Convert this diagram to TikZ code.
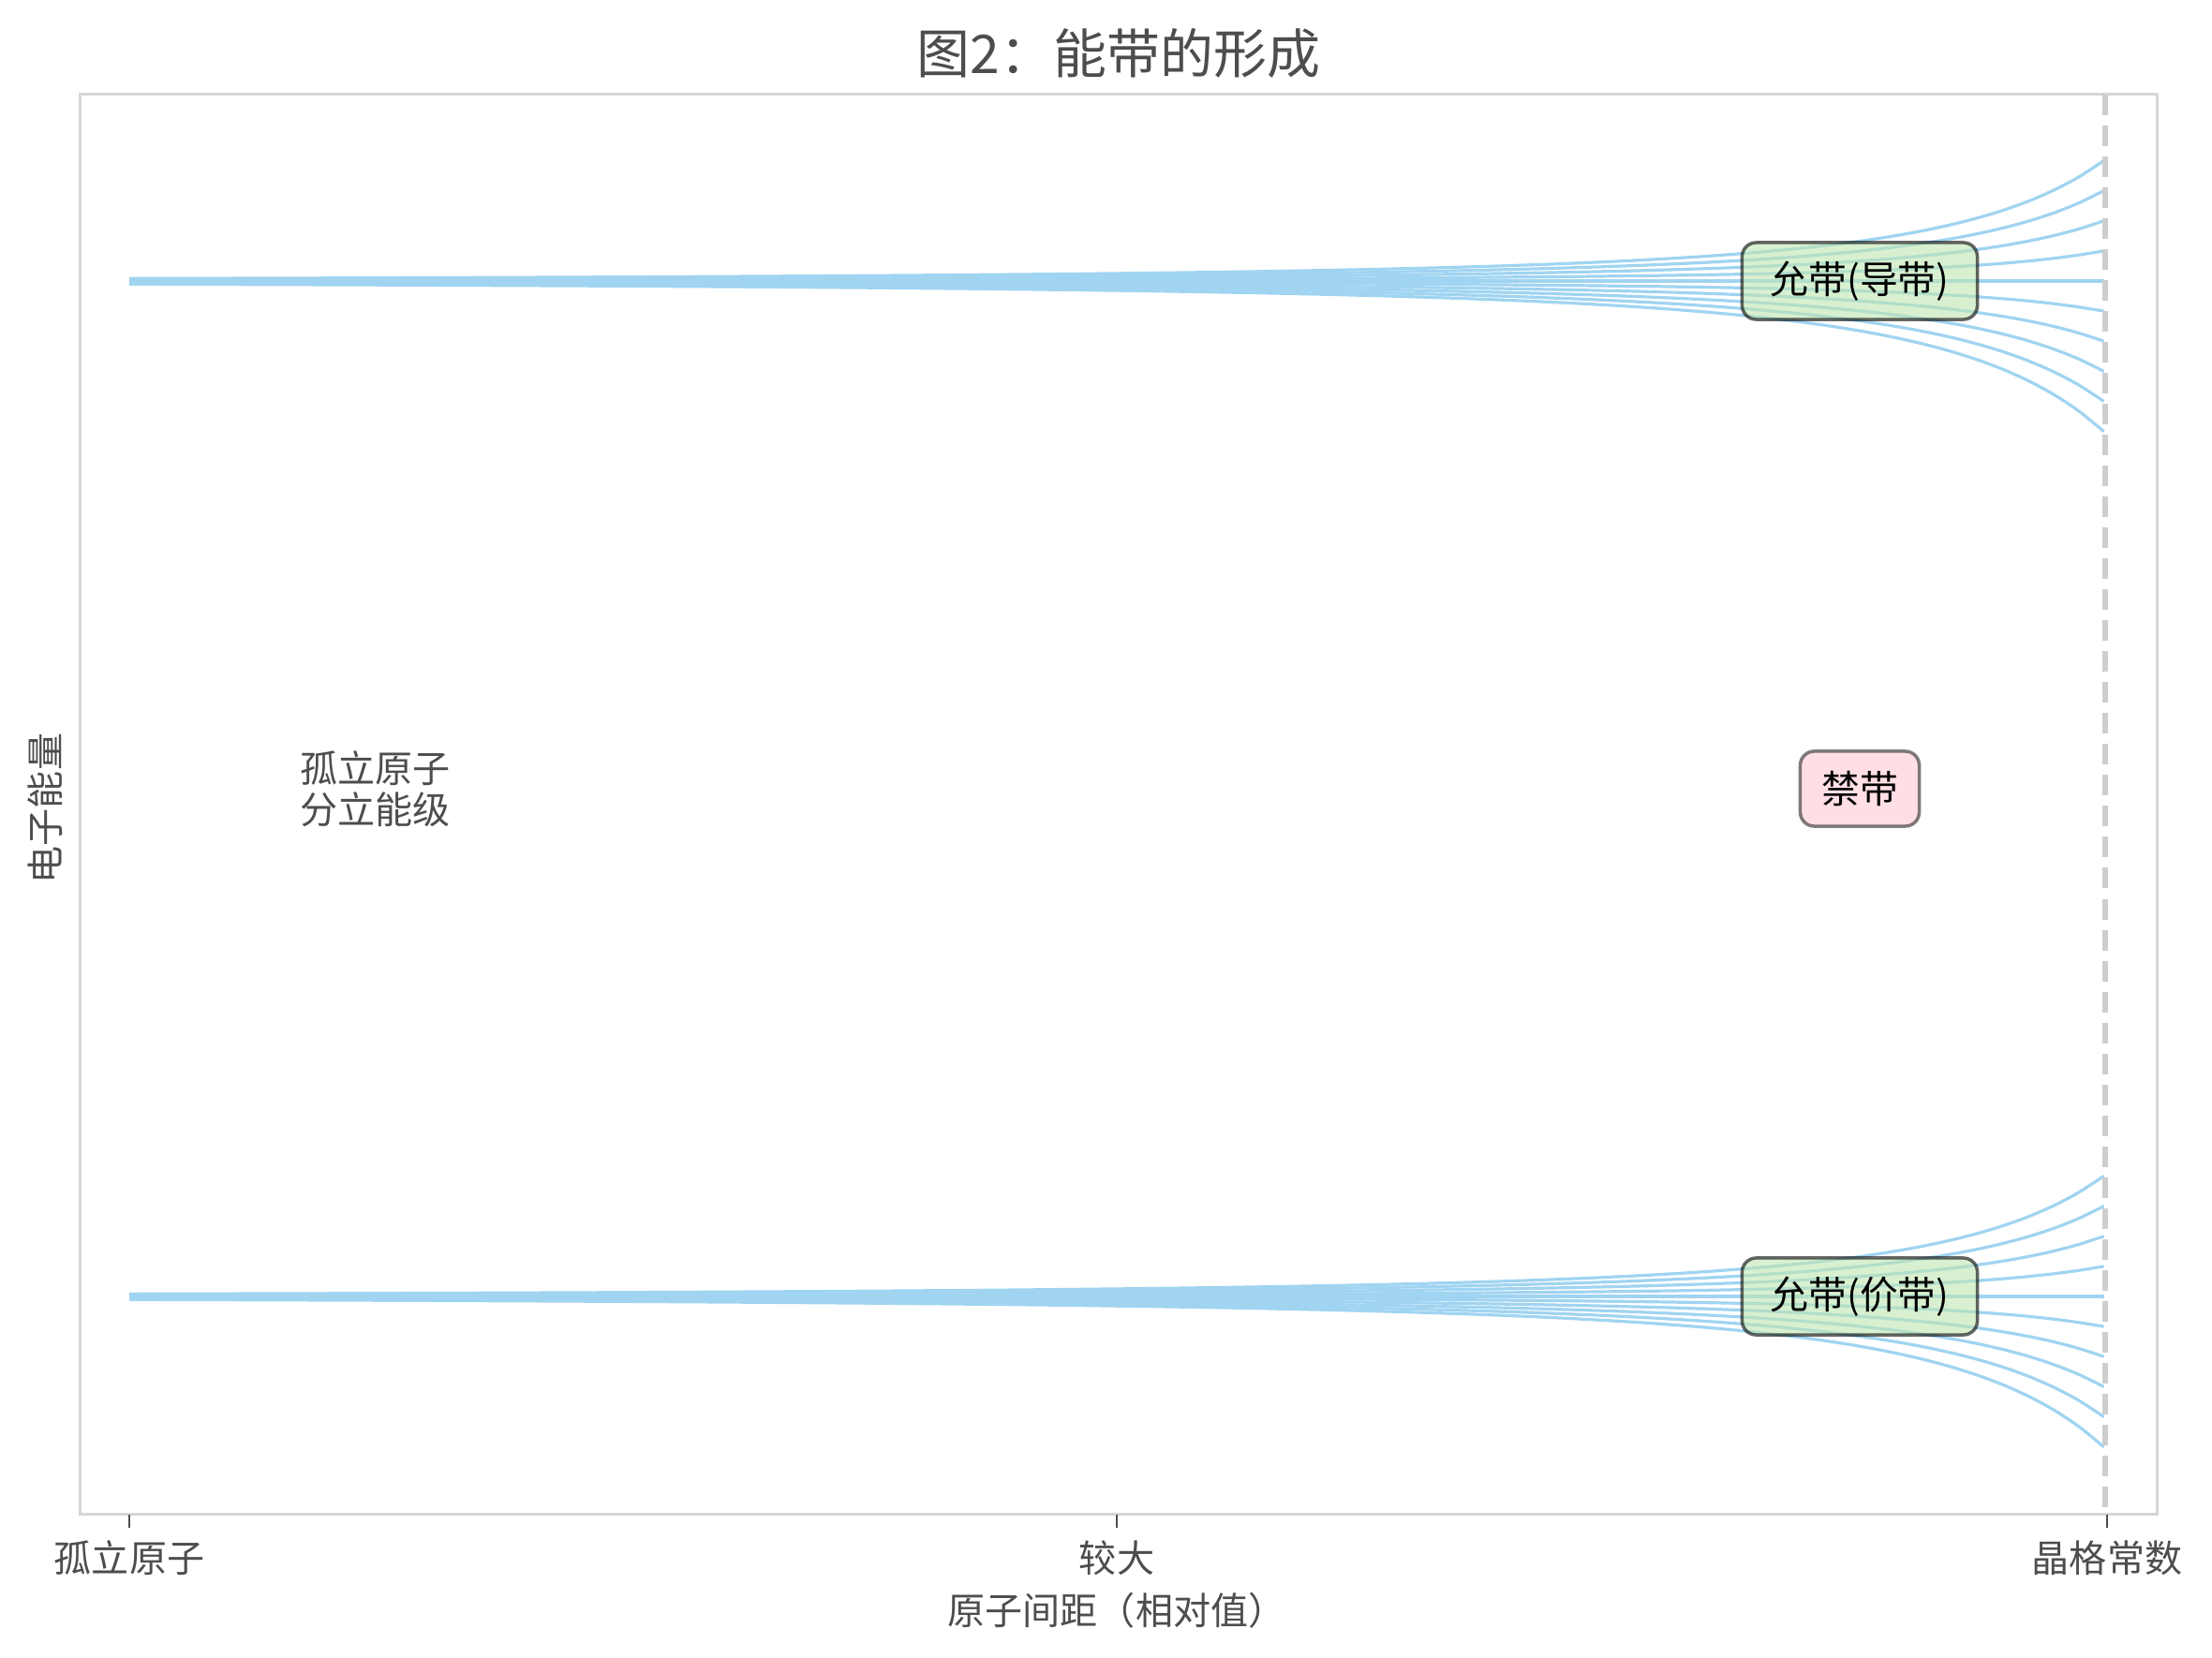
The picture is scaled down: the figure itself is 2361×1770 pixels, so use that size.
\documentclass[tikz,border=0pt]{standalone}
\usepackage{fontspec}
\setmainfont{Noto Sans CJK SC}

\definecolor{levelblue}{RGB}{160,212,241}
\definecolor{framegray}{RGB}{214,214,214}
\definecolor{dashgray}{RGB}{206,206,206}
\definecolor{textgray}{RGB}{77,77,77}
\definecolor{bandgreen}{RGB}{190,230,176}
\definecolor{gappink}{RGB}{255,192,203}

\tikzstyle{level} = [draw=levelblue,line width=0.032cm]
\tikzstyle{frame} = [draw=framegray,line width=0.03cm]
\tikzstyle{lattice} = [draw=dashgray,line width=0.055cm,dash pattern=on 0.22cm off 0.11cm]
\tikzstyle{tickmark} = [draw=textgray,line width=0.02cm]
\tikzstyle{labeltext} = [text=textgray,inner sep=0pt,font=\fontsize{11.4}{12.5}\selectfont]
\tikzstyle{titletext} = [text=textgray,inner sep=0pt,font=\fontsize{16.2}{19}\selectfont]
\tikzstyle{bandbox} = [draw=black,draw opacity=0.6,fill=bandgreen,fill opacity=0.6,text opacity=1,
  rounded corners=0.15cm,line width=0.035cm,minimum width=2.51cm,minimum height=0.82cm,
  inner sep=0pt,font=\fontsize{11.6}{12.5}\selectfont]
\tikzstyle{gapbox} = [bandbox,fill=gappink,fill opacity=0.5,draw opacity=0.5,
  minimum width=1.27cm,minimum height=0.80cm]

\begin{document}
\begin{tikzpicture}[x=0.01cm,y=-0.01cm]
    \useasboundingbox (0,0) rectangle (2361,1770);
    %% axes frame and ticks
    \draw[frame] (85,101) rectangle (2302,1616);
    \foreach \name/\x/\label in {
      iso/138/孤立原子,
      big/1192/较大,
      lat/2249/晶格常数}
    {
      \draw[tickmark] (\x,1617) -- (\x,1631);
      \node[labeltext] (tick\name) at (\x,1663) {\label};
    }
    %% energy levels splitting into bands
    \foreach \yc in {300,1384}
    {
      \foreach \i in {-4,...,5}
        \draw[level] plot[domain=0:1,samples=80,smooth] ({138+2109*\x},{\yc+\i*32.4/((7-6*\x)^2)});
    }
    % lattice constant
    \coordinate (lattop) at (2247,101);
    \coordinate (latbottom) at (2247,1616);
    \draw[lattice] (lattop) -- (latbottom);
    %% labels
    \node[bandbox] (cb) at (1985,300) {允带(导带)};
    \node[bandbox] (vb) at (1985,1384) {允带(价带)};
    \node[gapbox] (gap) at (1985,842) {禁带};
    \node[labeltext,align=left,anchor=west] (isolated) at (320,842) {孤立原子\\分立能级};
    \node[titletext] (title) at (1194,57) {图2：能带的形成};
    \node[labeltext] (xlabel) at (1192,1719) {原子间距（相对值）};
    \node[labeltext,rotate=90] (ylabel) at (48,863) {电子能量};
\end{tikzpicture}
\end{document}
